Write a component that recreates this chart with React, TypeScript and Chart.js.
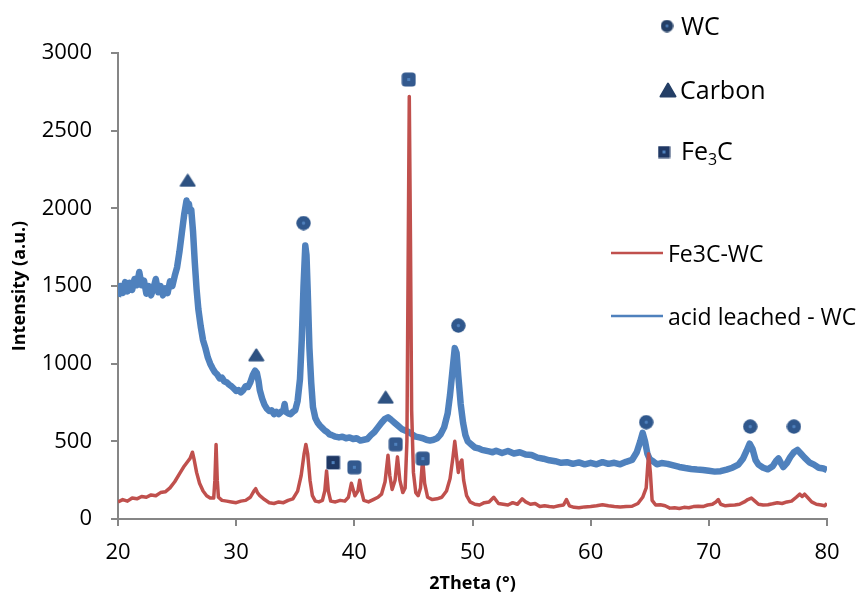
import React, { useEffect, useRef } from 'react';
import { Chart, registerables } from 'chart.js';

Chart.register(...registerables);

// ---------- Data ----------
const blueTheta = [
  20.0, 20.2, 20.4, 20.6, 20.8, 21.0, 21.2, 21.4, 21.6, 21.8, 22.0, 22.2, 22.4, 22.6, 22.8, 23.0, 23.2, 23.4, 23.6, 23.8,
  24.0, 24.2, 24.4, 24.6, 24.8, 25.0, 25.2, 25.4, 25.6, 25.8, 25.9, 26.0, 26.1, 26.2, 26.35, 26.5, 26.65, 26.8, 27.0, 27.2,
  27.4, 27.6, 27.8, 28.0, 28.2, 28.4, 28.6, 28.8, 29.0, 29.2, 29.4, 29.6, 29.8, 30.0, 30.2, 30.4, 30.6, 30.8, 31.0, 31.2,
  31.4, 31.6, 31.75, 31.9, 32.0, 32.2, 32.4, 32.6, 32.8, 33.0, 33.2, 33.4, 33.6, 33.8, 34.0, 34.1, 34.2, 34.4, 34.6, 34.8,
  35.0, 35.2, 35.4, 35.55, 35.7, 35.85, 35.95, 36.05, 36.2, 36.35, 36.5, 36.7, 36.9, 37.1, 37.3, 37.5, 37.7, 37.9, 38.1, 38.4,
  38.7, 39.0, 39.3, 39.6, 39.9, 40.2, 40.5, 40.8, 41.1, 41.4, 41.7, 42.0, 42.3, 42.6, 42.85, 43.1, 43.4, 43.7, 44.0, 44.3,
  44.6, 44.9, 45.2, 45.5, 45.8, 46.1, 46.4, 46.7, 47.0, 47.3, 47.6, 47.9, 48.1, 48.3, 48.5, 48.65, 48.8, 49.0, 49.2, 49.4,
  49.6, 49.9, 50.2, 50.5, 50.8, 51.1, 51.4, 51.7, 52.0, 52.5, 53.0, 53.5, 54.0, 54.5, 55.0, 55.5, 56.0, 56.5, 57.0, 57.5,
  58.0, 58.5, 59.0, 59.5, 60.0, 60.5, 61.0, 61.5, 62.0, 62.5, 63.0, 63.5, 63.9, 64.2, 64.4, 64.6, 64.8, 65.0, 65.3, 65.6,
  66.0, 66.5, 67.0, 67.5, 68.0, 68.5, 69.0, 69.5, 70.0, 70.5, 71.0, 71.5, 72.0, 72.5, 72.9, 73.2, 73.45, 73.7, 73.95, 74.2,
  74.6, 75.0, 75.4, 75.7, 75.9, 76.1, 76.3, 76.6, 76.9, 77.2, 77.5, 77.8, 78.1, 78.5, 78.9, 79.3, 79.7, 80.0,
];
const blueIntensity = [
  1430, 1500, 1455, 1525, 1465, 1520, 1475, 1545, 1505, 1590, 1505, 1535, 1450, 1500, 1440, 1485, 1545, 1460, 1500, 1440,
  1485, 1455, 1530, 1500, 1565, 1620, 1720, 1840, 1960, 2050, 2010, 2030, 1980, 1990, 1850, 1650, 1480, 1350, 1240, 1150,
  1100, 1040, 1000, 970, 945, 930, 905, 910, 885, 880, 865, 855, 840, 825, 830, 815, 830, 855, 850, 880,
  925, 955, 940, 885, 830, 775, 735, 710, 695, 700, 675, 690, 675, 690, 700, 740, 690, 680, 675, 690,
  700, 760, 900, 1150, 1500, 1760, 1700, 1480, 1100, 880, 720, 650, 620, 600, 585, 570, 560, 545, 540, 530,
  525, 530, 520, 525, 515, 520, 505, 510, 515, 540, 560, 590, 620, 645, 655, 640, 620, 600, 580, 570,
  560, 545, 530, 525, 520, 510, 505, 510, 520, 545, 590, 680, 800, 950, 1100, 1070, 920, 740, 620, 540,
  500, 480, 460, 455, 445, 440, 435, 430, 440, 425, 438, 422, 430, 415, 412, 395, 388, 378, 372, 362,
  366, 355, 364, 352, 362, 352, 366, 355, 362, 352, 368, 380, 430, 500, 555, 500, 420, 385, 370, 352,
  360, 355, 345, 335, 328, 322, 318, 315, 310, 305, 308, 318, 330, 350, 390, 440, 485, 450, 380, 350,
  330, 320, 340, 375, 390, 360, 335, 360, 400, 430, 445, 420, 395, 365, 350, 330, 325, 315,
];

const redTheta = [
  20.0, 20.4, 20.8, 21.2, 21.6, 22.0, 22.4, 22.8, 23.2, 23.6, 24.0, 24.4, 24.8, 25.2, 25.6, 25.9, 26.1, 26.3, 26.45, 26.65,
  26.9, 27.2, 27.5, 27.8, 28.1, 28.2, 28.3, 28.4, 28.5, 28.8, 29.2, 29.6, 30.0, 30.4, 30.8, 31.2, 31.5, 31.65, 31.8, 32.0,
  32.4, 32.8, 33.2, 33.6, 34.0, 34.4, 34.8, 35.2, 35.5, 35.75, 35.9, 36.05, 36.25, 36.45, 36.7, 37.0, 37.3, 37.5, 37.65, 37.8,
  38.0, 38.4, 38.8, 39.2, 39.5, 39.75, 39.9, 40.05, 40.3, 40.45, 40.6, 40.8, 41.2, 41.6, 42.0, 42.3, 42.6, 42.85, 43.0, 43.2,
  43.45, 43.65, 43.85, 44.1, 44.3, 44.45, 44.55, 44.65, 44.75, 44.85, 45.0, 45.2, 45.4, 45.6, 45.78, 45.95, 46.2, 46.6, 47.0, 47.4,
  47.8, 48.1, 48.35, 48.5, 48.65, 48.8, 48.95, 49.1, 49.25, 49.5, 49.8, 50.2, 50.6, 51.0, 51.4, 51.8, 52.2, 52.6, 53.0, 53.4,
  53.8, 54.2, 54.5, 54.9, 55.3, 55.7, 56.1, 56.5, 56.9, 57.3, 57.7, 57.95, 58.2, 58.6, 59.0, 59.5, 60.0, 60.5, 61.0, 61.5,
  62.0, 62.5, 63.0, 63.5, 64.0, 64.4, 64.7, 64.9, 65.05, 65.2, 65.5, 65.9, 66.3, 66.7, 67.1, 67.5, 67.9, 68.3, 68.7, 69.1,
  69.5, 69.9, 70.3, 70.6, 70.8, 71.0, 71.4, 71.8, 72.2, 72.6, 73.0, 73.3, 73.6, 73.9, 74.2, 74.6, 75.0, 75.4, 75.8, 76.2,
  76.6, 77.0, 77.4, 77.7, 77.9, 78.1, 78.4, 78.7, 79.1, 79.5, 79.8, 80.0,
];
const redIntensity = [
  110, 125, 115, 135, 130, 145, 140, 155, 150, 170, 175, 200, 240, 290, 340, 370, 390, 430, 380, 300,
  230, 180, 150, 135, 135, 250, 480, 250, 140, 120, 115, 110, 105, 115, 120, 140, 180, 195, 170, 150,
  125, 105, 100, 110, 105, 120, 130, 180, 280, 420, 480, 420, 250, 150, 115, 110, 120, 180, 310, 180,
  115, 110, 120, 115, 140, 230, 190, 150, 180, 250, 180, 120, 110, 125, 140, 160, 240, 410, 280, 190,
  250, 400, 250, 170, 200, 500, 1600, 2720, 1800, 700, 300, 170, 150, 200, 390, 230, 140, 125, 130, 140,
  180, 260, 400, 500, 400, 300, 360, 380, 250, 150, 110, 95, 90, 105, 110, 140, 100, 95, 90, 105,
  95, 130, 110, 95, 100, 80, 85, 80, 78, 85, 90, 125, 85, 75, 72, 78, 80, 85, 92, 85,
  80, 78, 80, 82, 100, 140, 200, 420, 300, 120, 90, 92, 85, 70, 72, 68, 75, 72, 80, 82,
  80, 90, 95, 110, 125, 95, 85, 88, 90, 95, 110, 125, 135, 115, 95, 90, 92, 98, 105, 100,
  110, 115, 140, 160, 145, 160, 135, 110, 95, 90, 85, 100,
];

// Phase markers placed above peaks
const wcTheta = [35.7, 48.8, 64.7, 73.5, 77.2];
const wcIntensity = [1905, 1245, 623, 595, 595];
const carbonTheta = [25.9, 31.7, 42.65];
const carbonIntensity = [2180, 1057, 784];
const fe3cTheta = [38.2, 40.0, 43.5, 44.6, 45.8];
const fe3cIntensity = [363, 333, 481, 2829, 389];

const seriesLabels = ['WC', 'Carbon', 'Fe3C', 'Fe3C-WC', 'acid leached - WC'];

const FONT = '"Open Sans", "Liberation Sans", sans-serif';
const RED = '#c0504d';
const BLUE = '#4f81bd';

// ---------- marker images ----------
function makeCanvas(w: number, h: number) {
  const c = document.createElement('canvas');
  c.width = w;
  c.height = h;
  return c;
}
function circleMarker(d: number, fill: string, dot: string) {
  const c = makeCanvas(d, d);
  const g = c.getContext('2d')!;
  g.fillStyle = fill;
  g.beginPath();
  g.arc(d / 2, d / 2, d / 2 - 0.3, 0, Math.PI * 2);
  g.fill();
  g.fillStyle = dot;
  g.beginPath();
  g.arc(d / 2, d / 2, Math.max(1.4, d / 9), 0, Math.PI * 2);
  g.fill();
  return c;
}
function triangleMarker(w: number, h: number, fill: string) {
  const c = makeCanvas(w, h);
  const g = c.getContext('2d')!;
  g.fillStyle = fill;
  g.strokeStyle = fill;
  g.lineJoin = 'round';
  g.lineWidth = 2;
  g.beginPath();
  g.moveTo(w / 2, 1.5);
  g.lineTo(w - 1.5, h - 1.5);
  g.lineTo(1.5, h - 1.5);
  g.closePath();
  g.fill();
  g.stroke();
  return c;
}
function squareMarker(s: number, fill: string, dot: string, radius: number, border?: string) {
  const c = makeCanvas(s, s);
  const g = c.getContext('2d')!;
  g.fillStyle = fill;
  g.beginPath();
  (g as any).roundRect(0.5, 0.5, s - 1, s - 1, radius);
  g.fill();
  if (border) {
    g.strokeStyle = border;
    g.lineWidth = 1;
    g.stroke();
  }
  g.fillStyle = dot;
  const ds = Math.max(3, Math.round(s / 5));
  g.fillRect(s / 2 - ds / 2, s / 2 - ds / 2, ds, ds);
  return c;
}

export default function App() {
  const ref = useRef<HTMLCanvasElement>(null);

  useEffect(() => {
    if (!ref.current) return;

    const wcImg = circleMarker(15, '#2f578c', '#4f81bd');
    const carbonImg = triangleMarker(17, 14, '#2e5282');
    const fe3cImg = squareMarker(15, '#33598e', '#4f81bd', 3.5);
    const fe3cDarkImg = squareMarker(15, '#1f3864', '#4f81bd', 1.5, '#b8c4d8');

    const legWc = circleMarker(13, '#243f66', '#4f81bd');
    const legCarbon = triangleMarker(18, 16, '#243f66');
    const legFe3c = squareMarker(13, '#203864', '#4f81bd', 0.5);

    const pairs = (xs: number[], ys: number[]) => xs.map((x, i) => ({ x, y: ys[i] }));

    const legendPlugin = {
      id: 'phaseLegend',
      afterDraw(chart: any) {
        const ctx = chart.ctx as CanvasRenderingContext2D;
        ctx.save();
        ctx.fillStyle = '#000';
        ctx.textBaseline = 'alphabetic';
        ctx.textAlign = 'left';
        // marker legend
        ctx.drawImage(legWc, 667 - legWc.width / 2, 26 - legWc.height / 2);
        ctx.drawImage(legCarbon, 668 - legCarbon.width / 2, 90 - legCarbon.height / 2);
        ctx.drawImage(legFe3c, 664 - legFe3c.width / 2, 152 - legFe3c.height / 2);
        ctx.font = `25px ${FONT}`;
        ctx.fillText(seriesLabels[0], 681, 35);
        ctx.fillText(seriesLabels[1], 680, 99);
        ctx.fillText('Fe', 681, 160);
        const w = ctx.measureText('Fe').width;
        ctx.font = `16px ${FONT}`;
        ctx.fillText('3', 681 + w, 165);
        const w3 = ctx.measureText('3').width;
        ctx.font = `25px ${FONT}`;
        ctx.fillText('C', 681 + w + w3, 160);
        // line legend
        ctx.lineWidth = 2.7;
        ctx.strokeStyle = RED;
        ctx.beginPath();
        ctx.moveTo(611, 253);
        ctx.lineTo(663, 253);
        ctx.stroke();
        ctx.strokeStyle = BLUE;
        ctx.beginPath();
        ctx.moveTo(611, 316);
        ctx.lineTo(663, 316);
        ctx.stroke();
        ctx.font = `23px ${FONT}`;
        ctx.fillText(seriesLabels[3], 668, 262);
        ctx.fillText(seriesLabels[4], 668, 325);
        ctx.restore();
      },
    };

    const chart = new Chart(ref.current, {
      type: 'scatter',
      data: {
        datasets: [
          {
            label: seriesLabels[0],
            data: pairs(wcTheta, wcIntensity),
            pointStyle: wcImg as any,
            pointRadius: 7,
            showLine: false,
          },
          {
            label: seriesLabels[1],
            data: pairs(carbonTheta, carbonIntensity),
            pointStyle: carbonImg as any,
            pointRadius: 7,
            showLine: false,
          },
          {
            label: seriesLabels[2],
            data: pairs(fe3cTheta, fe3cIntensity),
            pointStyle: ((c: any) => (c.dataIndex === 0 ? fe3cDarkImg : fe3cImg)) as any,
            pointRadius: 7,
            showLine: false,
          },
          {
            label: seriesLabels[3],
            data: pairs(redTheta, redIntensity),
            showLine: true,
            borderColor: RED,
            borderWidth: 3.5,
            borderJoinStyle: 'round',
            pointRadius: 0,
            tension: 0,
          },
          {
            label: seriesLabels[4],
            data: pairs(blueTheta, blueIntensity),
            showLine: true,
            borderColor: BLUE,
            borderWidth: 6.5,
            borderJoinStyle: 'round',
            pointRadius: 0,
            tension: 0,
          },
        ],
      },
      options: {
        responsive: false,
        animation: false,
        devicePixelRatio: 1,
        events: [],
        layout: { padding: { top: 53, right: 34, bottom: 0, left: 0 } },
        plugins: {
          legend: { display: false },
          tooltip: { enabled: false },
        },
        scales: {
          x: {
            type: 'linear',
            min: 20,
            max: 80,
            ticks: {
              stepSize: 10,
              color: '#000',
              padding: 14,
              font: { family: FONT, size: 22 },
              callback: (v: any) => String(v),
            },
            grid: { drawOnChartArea: false, drawTicks: true, tickLength: 7, color: '#868686', lineWidth: 2 },
            border: { color: '#868686', width: 2 },
            title: {
              display: true,
              text: '2Theta (°)',
              color: '#000',
              font: { family: FONT, size: 18, weight: 'bold' },
              padding: { top: 0, bottom: 0 },
            },
            afterFit: (s: any) => {
              s.height = 76;
            },
          },
          y: {
            type: 'linear',
            min: 0,
            max: 3000,
            ticks: {
              stepSize: 500,
              color: '#000',
              padding: 19,
              font: { family: FONT, size: 22 },
              callback: (v: any) => String(v),
            },
            grid: { drawOnChartArea: false, drawTicks: true, tickLength: 7, color: '#868686', lineWidth: 2 },
            border: { color: '#868686', width: 2 },
            title: {
              display: true,
              text: 'Intensity (a.u.)',
              color: '#000',
              font: { family: FONT, size: 18, weight: 'bold' },
              padding: { top: 9, bottom: 0 },
            },
            afterFit: (s: any) => {
              s.width = 118;
            },
          },
        },
      } as any,
      plugins: [legendPlugin],
    });

    let alive = true;
    if ((document as any).fonts && (document as any).fonts.ready) {
      (document as any).fonts.ready.then(() => {
        if (alive) chart.update();
      });
    }

    return () => {
      alive = false;
      chart.destroy();
    };
  }, []);

  return (
    <div style={{ position: 'fixed', left: 0, top: 0, width: 861, height: 595, background: '#fff' }}>
      <canvas ref={ref} width={861} height={595} style={{ display: 'block', width: 861, height: 595 }} />
    </div>
  );
}
